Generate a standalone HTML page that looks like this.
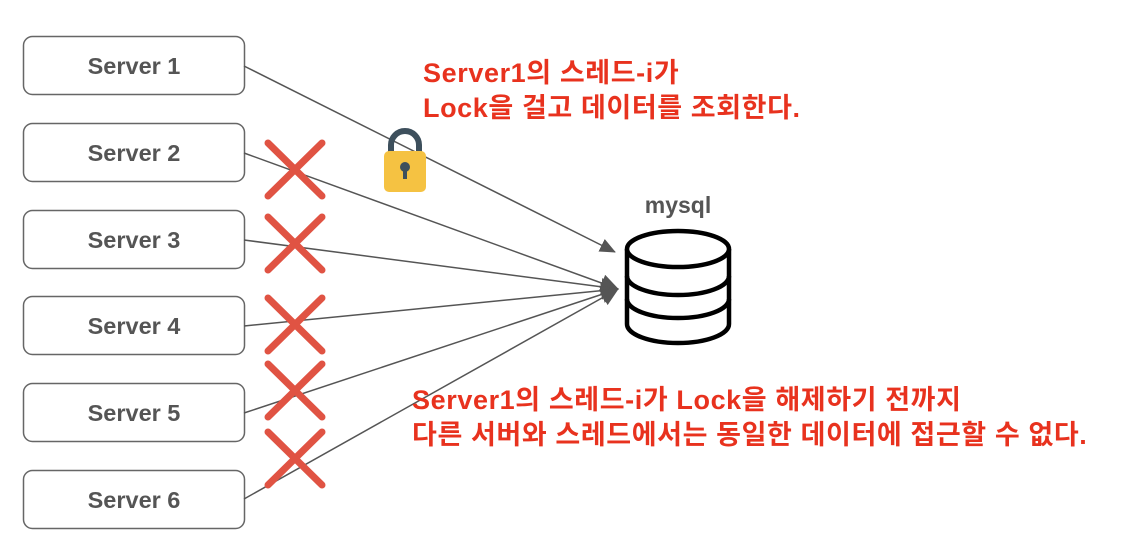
<!DOCTYPE html>
<html><head><meta charset="utf-8"><style>
html,body{margin:0;padding:0;background:#fff}
body{width:1140px;height:548px;position:relative;overflow:hidden;font-family:"Liberation Sans","Noto Sans CJK KR",sans-serif}
.t{position:absolute;color:#e8321e;font-weight:bold;font-size:27px;white-space:nowrap;line-height:35px;letter-spacing:0.6px}
</style></head><body>
<svg width="1140" height="548" style="position:absolute;left:0;top:0" font-family="Liberation Sans, sans-serif">
<defs><marker id="a" markerWidth="16" markerHeight="16" refX="15" refY="8" orient="auto" markerUnits="userSpaceOnUse" viewBox="0 0 16 16"><path d="M0,1 L16,8 L0,15 Z" fill="#555"/></marker>
<marker id="b" markerWidth="18" markerHeight="18" refX="17" refY="9" orient="auto" markerUnits="userSpaceOnUse" viewBox="0 0 18 18"><path d="M0,0 L18,9 L0,18 Z" fill="#555"/></marker></defs>
<g fill="#fff" stroke="#666" stroke-width="1.5">
<rect x="23.5" y="36.5" width="221" height="58" rx="9"/>
<rect x="23.5" y="123.5" width="221" height="58" rx="9"/>
<rect x="23.5" y="210.5" width="221" height="58" rx="9"/>
<rect x="23.5" y="296.5" width="221" height="58" rx="9"/>
<rect x="23.5" y="383.5" width="221" height="58" rx="9"/>
<rect x="23.5" y="470.5" width="221" height="58" rx="9"/>
</g>
<g fill="#555" font-size="23.5" font-weight="bold" text-anchor="middle">
<text x="134" y="74">Server 1</text><text x="134" y="161">Server 2</text><text x="134" y="248">Server 3</text>
<text x="134" y="334">Server 4</text><text x="134" y="421">Server 5</text><text x="134" y="508">Server 6</text>
</g>
<g stroke="#555" stroke-width="1.5" fill="none">
<line x1="244" y1="66" x2="615" y2="252" marker-end="url(#a)"/>
<line x1="244" y1="153" x2="618" y2="289" marker-end="url(#b)"/>
<line x1="244" y1="240" x2="618" y2="289" marker-end="url(#b)"/>
<line x1="244" y1="326" x2="618" y2="289" marker-end="url(#b)"/>
<line x1="244" y1="413" x2="618" y2="289" marker-end="url(#b)"/>
<line x1="244" y1="499" x2="618" y2="289" marker-end="url(#b)"/>
</g>
<g stroke="#e05343" stroke-width="7" stroke-linecap="round">
<path d="M268,143 L322,196 M322,143 L268,196"/>
<path d="M268,217 L322,270 M322,217 L268,270"/>
<path d="M268,298 L322,351 M322,298 L268,351"/>
<path d="M268,364 L322,417 M322,364 L268,417"/>
<path d="M268,432 L322,485 M322,432 L268,485"/>
</g>
<g>
<path d="M391,152 v-7 a14,14 0 0 1 28,0 v7" fill="none" stroke="#3d4f5c" stroke-width="6"/>
<rect x="384" y="151" width="42" height="41" rx="5" fill="#f5c242"/>
<circle cx="405" cy="167" r="5" fill="#3d4f5c"/><rect x="403" y="168" width="4" height="11" fill="#3d4f5c"/>
</g>
<text x="678" y="213" text-anchor="middle" font-size="23" font-weight="bold" fill="#555">mysql</text>
<g fill="#fff" stroke="#000" stroke-width="4.5">
<path d="M627,249 V324 A51,19 0 0 0 729,324 V249"/>
<path d="M627,276 A51,19 0 0 0 729,276" fill="none"/>
<path d="M627,299 A51,19 0 0 0 729,299" fill="none"/>
<ellipse cx="678" cy="249" rx="51" ry="18"/>
</g>
</svg>
<div class="t" style="left:423px;top:56px">Server1의 스레드-i가<br>Lock을 걸고 데이터를 조회한다.</div>
<div class="t" style="left:412px;top:383px">Server1의 스레드-i가 Lock을 해제하기 전까지<br>다른 서버와 스레드에서는 동일한 데이터에 접근할 수 없다.</div>
</body></html>
